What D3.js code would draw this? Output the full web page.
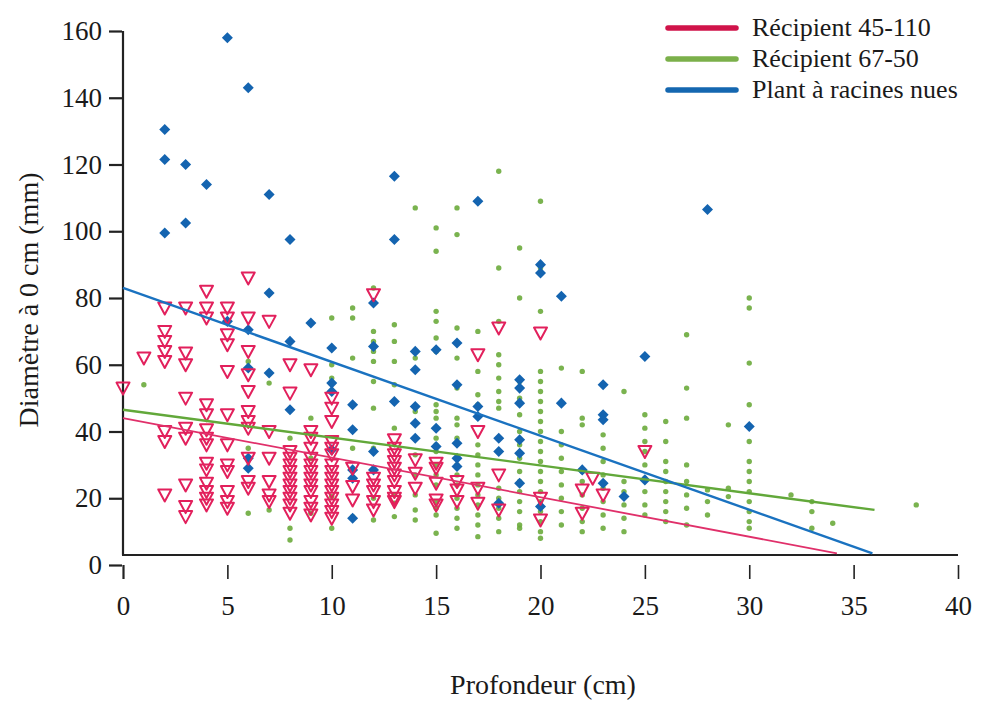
<!DOCTYPE html>
<html><head><meta charset="utf-8">
<script src="https://cdn.jsdelivr.net/npm/d3@7"></script>
<style>body{margin:0;background:#fff}svg{display:block}text{font-family:"Liberation Serif","Times New Roman",serif;fill:#1a1a1a}</style>
</head><body><svg id="c" width="985" height="702"></svg>
<script>
// ---- data (x = profondeur, values = diamètre) ----
const seriesNames = ["Récipient 45-110", "Récipient 67-50", "Plant à racines nues"];
const xTicks = [0,5,10,15,20,25,30,35,40];
const yTicks = [0,20,40,60,80,100,120,140,160];

const rec45Cols = [
  [0,[53]],[1,[62]],
  [2,[77,70,67,64,61,40,37,21]],
  [3,[77,63.5,60,50,41,38,24,17.5,14.5]],
  [4,[82,77,74,48,45,40.5,38,36,30.5,28.5,24.5,22,20,18]],
  [5,[77,74,69,66,58,45,36,30,28,22,19,17]],
  [6,[86,74,64,57,52,46,43,41,32,25,23]],
  [7,[73,40,32,25,21,19]],
  [8,[60,51.5,34,32,30,28,26,24,22,20,18,15.5]],
  [9,[58.5,40,38,35,32,30,28,26,24,22,19,17,15]],
  [10,[50,47,43,37,35,33,30,28,26,24,22,20,18,16,14]],
  [11,[29,23.5,19.5]],
  [12,[81,26,24,22,19,16.5]],
  [13,[37.5,35,33,31,29,27,25,22,20,19]],
  [14,[31.5,27.5,23]],
  [15,[30.5,29,24.5,19.5,18]],
  [16,[25,22.5,19]],
  [17,[63,40,23,18.5]],
  [18,[71,27,16.5]],
  [20,[69.5,20,13.5]],
  [22,[22.5,15.5]],[22.5,[26]],[23,[21]],[25,[34]]
];
const rec67Cols = [
  [1,[54]],[6,[61,35,15.5]],[7,[54.5,16.5]],[8,[38,11,7.5]],[9,[44,32,15.5]],
  [10,[74,60,56,20.5,11]],[11,[77,74,62,35,14.5]],
  [12,[83,70,67,64,61,55,47,35,20,13.5]],
  [13,[72,67,61,54,41,21,18.5,14.5]],
  [14,[107,62,46,33,27,21,16.5,13.5]],
  [15,[101,94,76,73,68,64,48,46,44,38,36,34,30,27,24,19,17,15,9.5]],
  [16,[107,99,71,62,53,44,42,38,30,27,24,20,17,14,11]],
  [17,[70,58,51,48,36,33,30,27,24,21,18,15,12,8.5]],
  [18,[118,89,73,63,60,56,52,49,47,23,20,17,14,10]],
  [19,[95,80,55,50,45,40,36,32,28,25,22,19,16,12,11]],
  [20,[109,89,76,58,55,52,49,46,43,40,37,34,31,28,25,22,19,16,13,10,8]],
  [21,[59,40,36,32,28,24,20,16,12]],
  [22,[58,44,42,28,25,21,17,13,10]],
  [23,[39,35,31,27,23,19,15,11]],
  [24,[52,25,22,18,14,10]],
  [25,[45,41,37,34,30,26,22,18,15]],
  [26,[43,37,31,28,25,22,19,16,13]],
  [27,[69,53,44,30,25,21,17,12]],
  [28,[22.5,19,15]],[29,[42,23,20.5]],
  [30,[80,77,60.5,48,37,31,28,25,22,19,16,13,11]],
  [32,[21]],[33,[19,16,11]],[34,[12.5]],[38,[18]]
];
const plantCols = [
  [2,[130.5,121.5,99.5]],[3,[120,102.5]],[4,[114]],[5,[158,73]],
  [6,[143,70.5,59,32,29]],[7,[111,81.5,57.5]],[8,[97.5,67,46.5]],[9,[72.5]],
  [10,[65,54.5,52,34.5]],[11,[48,40.5,28.5,26,14]],[12,[78.5,65.5,34,28.5]],
  [13,[116.5,97.5,49]],[14,[64,58.5,47.5,42.5,38]],[15,[64.5,41,35.5]],
  [16,[66.5,54,36.5,32,29.5]],[17,[109,47.5,44.5]],[18,[38,34,18.5]],
  [19,[55.5,53,48.5,37.5,33.5,24.5]],[20,[90,87.5,17.5]],[21,[80.5,48.5]],
  [22,[28.5]],[23,[54,45,43.5,24.5]],[24,[20.5]],[25,[62.5,25.5]],
  [28,[106.5]],[30,[41.5]]
];
const fit45 = [[0,44],[34.2,3.5]];
const fit67 = [[0,46.5],[36,16.5]];
const fitPlant = [[0,83],[35.9,3.5]];

// ---- drawing ----
const flat = cols => cols.flatMap(([x, vs]) => vs.map(v => [x, v]));
const svg = d3.select("#c");
const x = d3.scaleLinear().domain([0,40]).range([123,958]);
const y = d3.scaleLinear().domain([0,160]).range([565,31]);
const cRed = "#e2205c", cGreen = "#6cab3c", cBlue = "#1464b0";

// axes
const axisCol = "#222";
svg.append("line").attr("x1",x(0)).attr("x2",x(0)).attr("y1",y(160)).attr("y2",y(0)-10)
  .attr("stroke",axisCol).attr("stroke-width",2.2);
svg.append("line").attr("x1",x(0)-1).attr("x2",x(40)).attr("y1",y(0)-10).attr("y2",y(0)-10)
  .attr("stroke",axisCol).attr("stroke-width",2.2);
const ya = svg.append("g").attr("transform",`translate(${x(0)-1},0)`)
  .call(d3.axisLeft(y).tickValues(yTicks).tickSize(13).tickPadding(7).tickFormat(d3.format("d")));
ya.select(".domain").remove();
ya.selectAll("line").attr("stroke",axisCol).attr("stroke-width",2.2);
ya.selectAll("text").style("font-size","27px");
const xa = svg.append("g").attr("transform",`translate(0,${y(0)})`)
  .call(d3.axisBottom(x).tickValues(xTicks).tickSize(14).tickPadding(17).tickFormat(d3.format("d")));
xa.select(".domain").remove();
xa.selectAll("line").attr("stroke",axisCol).attr("stroke-width",1.6);
xa.selectAll(".tick").filter(d=>d===0).select("line").attr("stroke-width",2.2);
xa.selectAll("text").style("font-size","27px");

svg.append("text").attr("x",543).attr("y",694).attr("text-anchor","middle")
  .style("font-size","28px").text("Profondeur (cm)");
svg.append("text").attr("transform","translate(38,300) rotate(-90)").attr("text-anchor","middle")
  .style("font-size","28px").text("Diamètre à 0 cm (mm)");

// points
svg.append("g").selectAll("circle").data(flat(rec67Cols)).join("circle")
  .attr("cx",d=>x(d[0])).attr("cy",d=>y(d[1])).attr("r",2.7).attr("fill",cGreen).attr("opacity",0.9);
const diamond = d3.symbol().type(d3.symbolDiamond2).size(78);
svg.append("g").selectAll("path").data(flat(plantCols)).join("path")
  .attr("transform",d=>`translate(${x(d[0])},${y(d[1])})`).attr("d",diamond).attr("fill",cBlue);
const tri = "M-6.5,-5.5L6.5,-5.5L0,6.5Z";
svg.append("g").selectAll("path").data(flat(rec45Cols)).join("path")
  .attr("transform",d=>`translate(${x(d[0])},${y(d[1])})`).attr("d",tri)
  .attr("fill","none").attr("stroke",cRed).attr("stroke-width",2).attr("stroke-linejoin","round");

// regression lines
const ln = d3.line().x(d=>x(d[0])).y(d=>y(d[1]));
svg.append("path").attr("d",ln(fit45)).attr("stroke","#e0306a").attr("stroke-width",1.8).attr("fill","none");
svg.append("path").attr("d",ln(fit67)).attr("stroke","#62a83a").attr("stroke-width",2.4).attr("fill","none");
svg.append("path").attr("d",ln(fitPlant)).attr("stroke","#1a72c0").attr("stroke-width",2.4).attr("fill","none");

// legend
const legCols = ["#d0134a","#7bb04a","#1467b0"];
const lg = svg.append("g").selectAll("g").data(seriesNames).join("g")
  .attr("transform",(d,i)=>`translate(668,${28+i*31})`);
lg.append("line").attr("x1",0).attr("x2",68).attr("stroke",(d,i)=>legCols[i]).attr("stroke-width",5.5).attr("stroke-linecap","round");
lg.append("text").attr("x",84).attr("y",8).style("font-size","26px").text(d=>d);
</script></body></html>
